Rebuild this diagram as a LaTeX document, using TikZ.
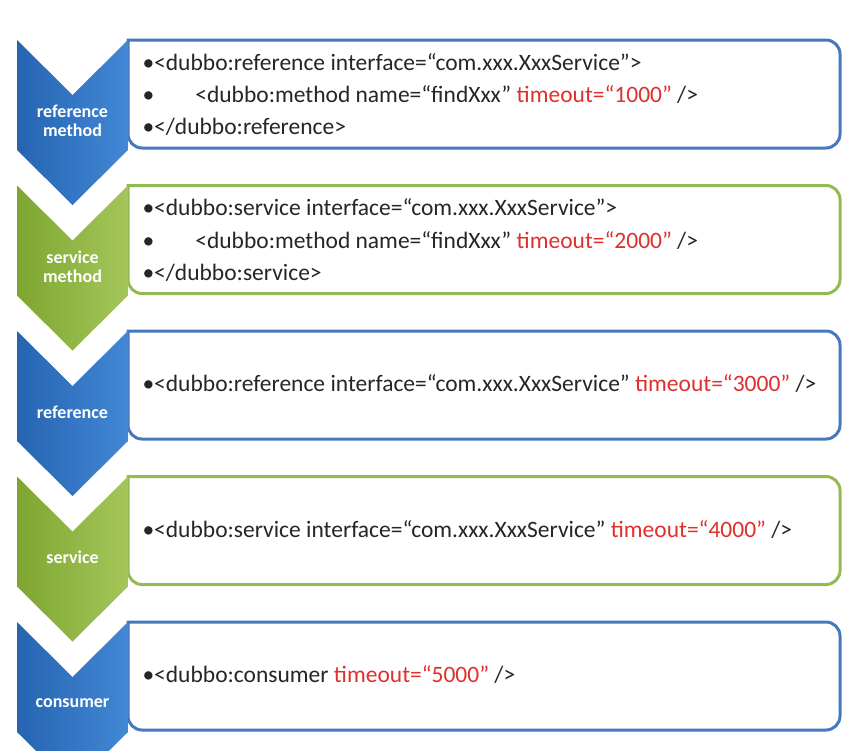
\documentclass[tikz,border=0pt]{standalone}
\usepackage{fontspec}
\setmainfont{Carlito}
\definecolor{chbluedark}{RGB}{38,100,178}
\definecolor{chbluelight}{RGB}{66,136,212}
\definecolor{chgreendark}{RGB}{126,166,48}
\definecolor{chgreenlight}{RGB}{164,198,90}
\definecolor{bxblue}{RGB}{70,120,190}
\definecolor{bxgreen}{RGB}{150,186,82}
\definecolor{codetxt}{RGB}{38,38,38}
\definecolor{attrred}{RGB}{222,48,44}

\begin{document}
\begin{tikzpicture}[x=1pt,y=-1pt,line width=3pt,
  chevlabel/.style={text=white,font=\fontsize{18}{21}\selectfont\bfseries,align=center},
  codeline/.style={anchor=west,text=codetxt,font=\fontsize{23.5}{28}\selectfont,inner sep=0pt}]
  \useasboundingbox (0,0) rectangle (866,750);
  \clip (0,0) rectangle (866,750);
  % boxes and chevrons, one row each
  \foreach \y/\c in {40/blue,185.5/green,331/blue,476.5/green,622/blue}{
    \draw[bx\c,fill=white] (128,\y) [rounded corners=14pt] -- (840,\y) -- (840,\y+108)
      -- (128,\y+108) [sharp corners] -- cycle;
    \shade[left color=ch\c dark,right color=ch\c light] (17,\y) -- (72.5,\y+55) -- (128,\y)
      -- (128,\y+110) -- (72.5,\y+165) -- (17,\y+110) -- cycle;
  }
  % labels on the chevrons
  \node[chevlabel] (refmethod) at (72.5,121) {reference\\[-2pt]method};
  \node[chevlabel] (srvmethod) at (72.5,266.5) {service\\[-2pt]method};
  \node[chevlabel] (reference) at (72.5,412) {reference};
  \node[chevlabel] (service) at (72.5,557.5) {service};
  \node[chevlabel] (consumer) at (72.5,703) {consumer};
  % reference method
  \node[codeline] (refmone) at (141,62) {•<dubbo:reference interface=“com.xxx.XxxService”>};
  \node[codeline] (refmtwo) at (141,95) {•\hspace{1.75em}<dubbo:method name=“findXxx” \textcolor{attrred}{timeout=“1000”} />};
  \node[codeline] (refmthree) at (141,127) {•</dubbo:reference>};
  % service method
  \node[codeline] (srvmone) at (141,207.5) {•<dubbo:service interface=“com.xxx.XxxService”>};
  \node[codeline] (srvmtwo) at (141,240.5) {•\hspace{1.75em}<dubbo:method name=“findXxx” \textcolor{attrred}{timeout=“2000”} />};
  \node[codeline] (srvmthree) at (141,272.5) {•</dubbo:service>};
  % reference, service, consumer
  \node[codeline] (refline) at (141,384) {•<dubbo:reference interface=“com.xxx.XxxService” \textcolor{attrred}{timeout=“3000”} />};
  \node[codeline] (srvline) at (141,529.5) {•<dubbo:service interface=“com.xxx.XxxService” \textcolor{attrred}{timeout=“4000”} />};
  \node[codeline] (conline) at (141,675) {•<dubbo:consumer \textcolor{attrred}{timeout=“5000”} />};
\end{tikzpicture}
\end{document}
